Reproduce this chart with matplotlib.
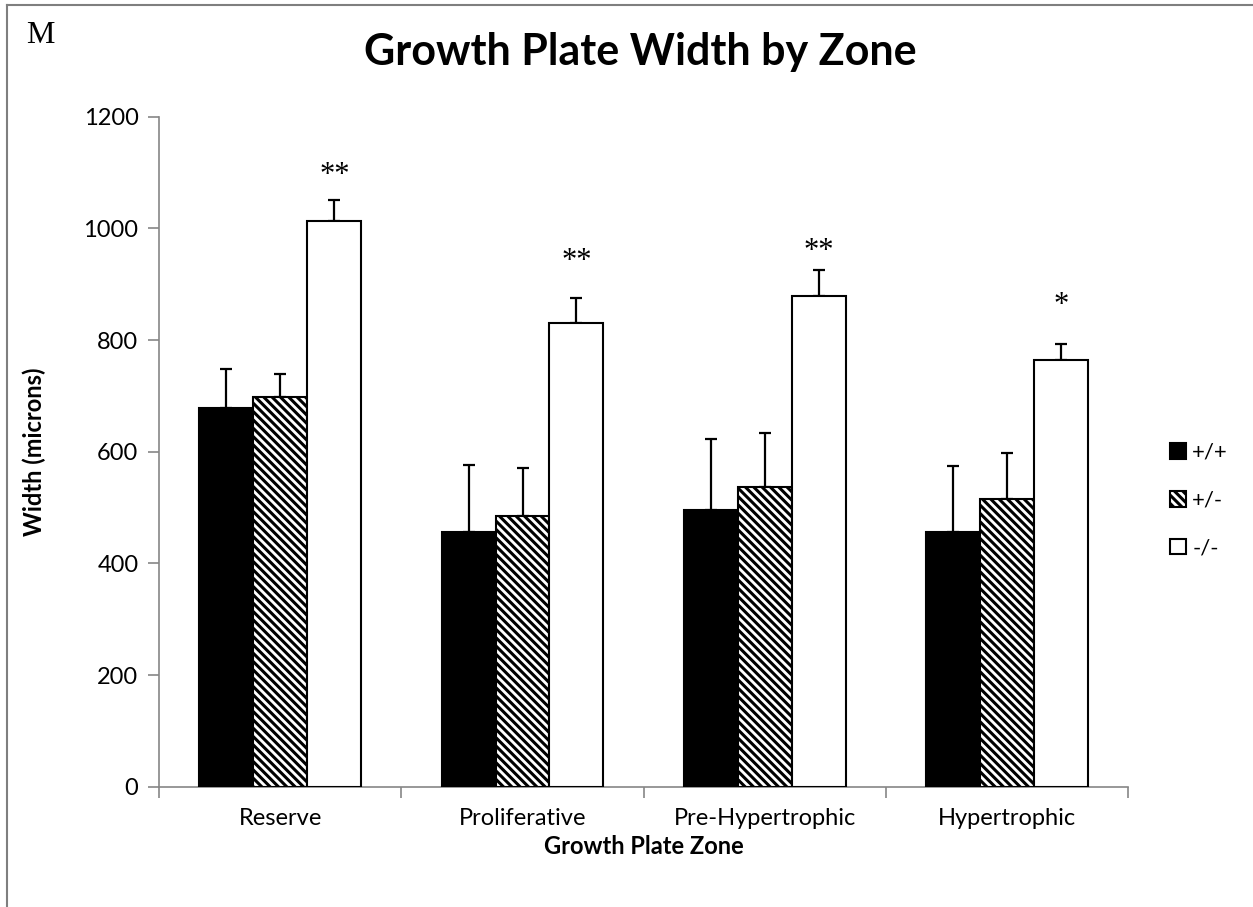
import numpy as np
import matplotlib
matplotlib.use("Agg")
from matplotlib import pyplot as plt
from matplotlib.lines import Line2D
from matplotlib.patches import Patch

# Growth plate zone widths (microns), mean and upper error per genotype
zones = ["Reserve", "Proliferative", "Pre-Hypertrophic", "Hypertrophic"]
genotypes = ["+/+", "+/-", "-/-"]
wt_mean = [679, 456, 495, 456]
het_mean = [698, 485, 536, 515]
ko_mean = [1013, 831, 878, 764]
wt_err = [69, 120, 127, 119]
het_err = [42, 86, 98, 83]
ko_err = [37, 44, 47, 28]
stars = ["**", "**", "**", "*"]
star_y = [1094, 940, 959, 861]

plt.rcParams["font.family"] = ["Lato", "DejaVu Sans"]
plt.rcParams["hatch.linewidth"] = 2.2
plt.rcParams["hatch.color"] = "black"

axis_grey = "#868686"

fig = plt.figure(figsize=(12.53, 9.07), dpi=100)
ax = fig.add_axes([0.1271, 0.1326, 0.9002 - 0.1271, 0.8714 - 0.1326])

x = np.arange(len(zones))
w = 0.2227
styles = [
    dict(facecolor="black", hatch=None),
    dict(facecolor="white", hatch="\\\\\\\\"),
    dict(facecolor="white", hatch=None),
]
series = [(wt_mean, wt_err), (het_mean, het_err), (ko_mean, ko_err)]
for i, ((means, errs), st) in enumerate(zip(series, styles)):
    pos = x + (i - 1) * w
    ax.bar(pos, means, width=w, facecolor=st["facecolor"], hatch=st["hatch"],
           edgecolor="black", linewidth=1.5, zorder=3)
    ax.errorbar(pos, means, yerr=[np.zeros(len(errs)), errs], fmt="none",
                ecolor="black", elinewidth=1.6, capsize=4.3, capthick=1.6, zorder=2)

for xi, s, sy in zip(x + w, stars, star_y):
    ax.text(xi, sy, s, ha="center", va="center", fontsize=22,
            family="Liberation Serif")

ax.set_ylim(0, 1200)
ax.set_xlim(-0.5, len(zones) - 0.5)
ax.set_yticks(np.arange(0, 1201, 200))
ax.set_xticks(x)
ax.set_xticklabels(zones)
ax.set_xticks(np.arange(-0.5, len(zones)), minor=True)
ax.tick_params(axis="x", which="major", length=0, pad=15, labelsize=17)
ax.tick_params(axis="x", which="minor", length=8, width=1.2, color=axis_grey, direction="out")
ax.tick_params(axis="y", length=8, width=1.2, color=axis_grey, direction="out", pad=7, labelsize=17)

for side in ["top", "right"]:
    ax.spines[side].set_visible(False)
for side in ["left", "bottom"]:
    ax.spines[side].set_color(axis_grey)
    ax.spines[side].set_linewidth(1.2)

ax.set_ylabel("Width (microns)", fontsize=17, fontweight="bold")
ax.yaxis.set_label_coords(-0.117, 0.5)
ax.set_xlabel("Growth Plate Zone", fontsize=17, fontweight="bold")
ax.xaxis.set_label_coords(0.5, -0.072)
fig.text(0.511, 0.943, "Growth Plate Width by Zone", ha="center", va="center",
         fontsize=31, fontweight="bold")
fig.text(0.021, 0.961, "M", ha="left", va="center", fontsize=23, family="Liberation Serif")

handles = [Patch(facecolor=st["facecolor"], hatch=st["hatch"], edgecolor="black", linewidth=1.5)
           for st in styles]
fig.legend(handles, genotypes, loc="upper left", bbox_to_anchor=(0.925, 0.524),
           frameon=False, fontsize=16, handlelength=0.7, handleheight=0.7,
           handletextpad=0.3, labelspacing=1.25, borderpad=0)

# frame around the panel
fig.add_artist(Line2D([0.0056, 0.0056], [0.0, 0.9945], color="#7f7f7f", lw=1.5,
                      transform=fig.transFigure))
fig.add_artist(Line2D([0.0056, 1.0], [0.9945, 0.9945], color="#7f7f7f", lw=1.5,
                      transform=fig.transFigure))

fig.savefig("out.png", dpi=100)
